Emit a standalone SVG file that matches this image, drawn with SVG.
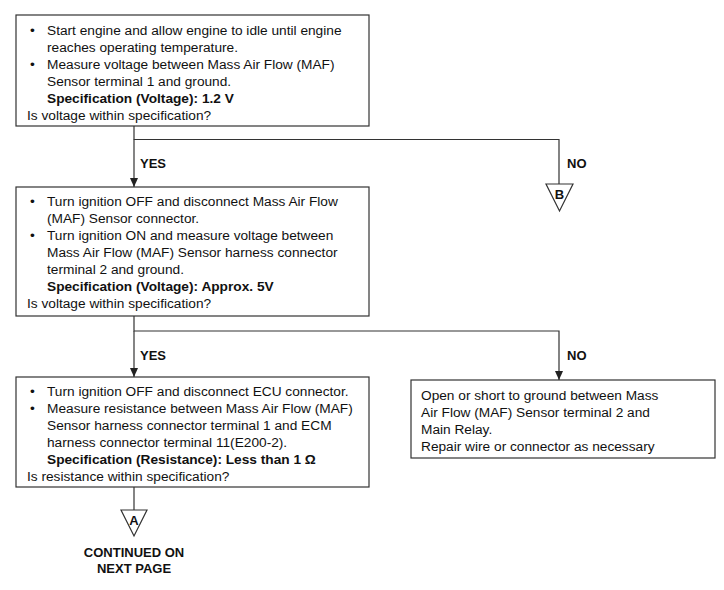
<svg xmlns="http://www.w3.org/2000/svg" width="724" height="590" viewBox="0 0 724 590">
<defs>
<marker id="arr" viewBox="0 0 9 8" refX="9" refY="4" markerWidth="9" markerHeight="8" markerUnits="userSpaceOnUse" orient="auto">
<path d="M0,0 L9,4 L0,8 Z" fill="#222"/>
</marker>
</defs>
<style>
.box{fill:#fff;stroke:#333;stroke-width:1.2}
.t{font-family:"Liberation Sans",Arial,sans-serif;font-size:13.7px;fill:#111}
.b{font-weight:bold}
.ln{fill:none;stroke:#333;stroke-width:1.2}
.tri{fill:#fff;stroke:#333;stroke-width:1.2}
.lbl{font-family:"Liberation Sans",Arial,sans-serif;font-size:13px;font-weight:bold;fill:#111}
</style>
<rect width="724" height="590" fill="#fff"/>
<g id="connectors">
<path class="ln" d="M134,126 V139.5 H559 V184"/>
<path class="ln" d="M134,139.5 V187" marker-end="url(#arr)"/>
<path class="ln" d="M134,316 V331 H559 V380" marker-end="url(#arr)"/>
<path class="ln" d="M134,331 V377" marker-end="url(#arr)"/>
<path class="ln" d="M134,487 V510"/>
<text class="lbl" x="140" y="168">YES</text>
<text class="lbl" x="567" y="168">NO</text>
<text class="lbl" x="140" y="360">YES</text>
<text class="lbl" x="567" y="360">NO</text>
</g>
<g id="node1">
<rect class="box" x="16" y="15" width="353" height="111"/>
<text class="t" x="30" y="35">•</text>
<text class="t" x="47" y="35">Start engine and allow engine to idle until engine</text>
<text class="t" x="47" y="52">reaches operating temperature.</text>
<text class="t" x="30" y="69">•</text>
<text class="t" x="47" y="69">Measure voltage between Mass Air Flow (MAF)</text>
<text class="t" x="47" y="86">Sensor terminal 1 and ground.</text>
<text class="t b" x="47" y="103">Specification (Voltage): 1.2 V</text>
<text class="t" x="27" y="120">Is voltage within specification?</text>
</g>
<g id="nodeB">
<path class="tri" d="M546,184 H573 L559.5,211 Z"/>
<text class="lbl" x="559.5" y="199" text-anchor="middle" font-size="12">B</text>
</g>
<g id="node2">
<rect class="box" x="16" y="187" width="353" height="129"/>
<text class="t" x="30" y="206">•</text>
<text class="t" x="47" y="206">Turn ignition OFF and disconnect Mass Air Flow</text>
<text class="t" x="47" y="223">(MAF) Sensor connector.</text>
<text class="t" x="30" y="240">•</text>
<text class="t" x="47" y="240">Turn ignition ON and measure voltage between</text>
<text class="t" x="47" y="257">Mass Air Flow (MAF) Sensor harness connector</text>
<text class="t" x="47" y="274">terminal 2 and ground.</text>
<text class="t b" x="47" y="291">Specification (Voltage): Approx. 5V</text>
<text class="t" x="27" y="308">Is voltage within specification?</text>
</g>
<g id="node3">
<rect class="box" x="16" y="377" width="353" height="110"/>
<text class="t" x="30" y="396">•</text>
<text class="t" x="47" y="396">Turn ignition OFF and disconnect ECU connector.</text>
<text class="t" x="30" y="413">•</text>
<text class="t" x="47" y="413">Measure resistance between Mass Air Flow (MAF)</text>
<text class="t" x="47" y="430">Sensor harness connector terminal 1 and ECM</text>
<text class="t" x="47" y="447">harness connector terminal 11(E200-2).</text>
<text class="t b" x="47" y="464">Specification (Resistance): Less than 1 Ω</text>
<text class="t" x="27" y="481">Is resistance within specification?</text>
</g>
<g id="node4">
<rect class="box" x="411" y="380" width="304" height="78"/>
<text class="t" x="421" y="400">Open or short to ground between Mass</text>
<text class="t" x="421" y="417">Air Flow (MAF) Sensor terminal 2 and</text>
<text class="t" x="421" y="434">Main Relay.</text>
<text class="t" x="421" y="451">Repair wire or connector as necessary</text>
</g>
<g id="nodeA">
<path class="tri" d="M121,510 H147 L134,536 Z"/>
<text class="lbl" x="134" y="525" text-anchor="middle" font-size="12">A</text>
<text class="lbl" x="134" y="557" text-anchor="middle">CONTINUED ON</text>
<text class="lbl" x="134" y="573" text-anchor="middle">NEXT PAGE</text>
</g>
</svg>
